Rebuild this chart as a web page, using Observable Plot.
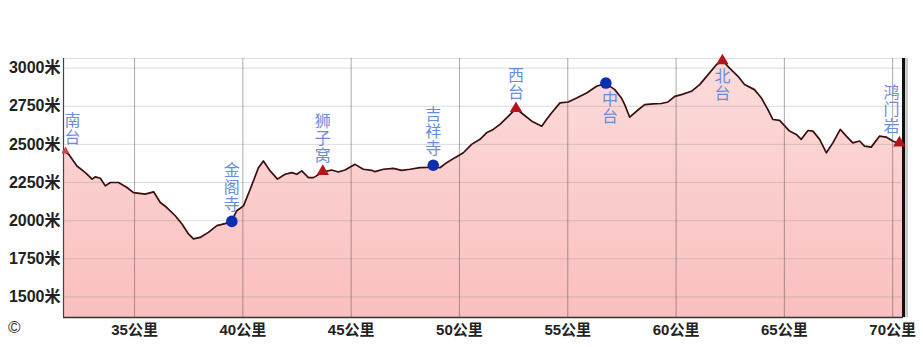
<!DOCTYPE html>
<html>
<head>
<meta charset="utf-8">
<script src="https://cdn.jsdelivr.net/npm/d3@7"></script>
<script src="https://cdn.jsdelivr.net/npm/@observablehq/plot@0.6"></script>
<style>
  html, body { margin: 0; padding: 0; background: #fff; }
  #wrap { position: relative; width: 923px; height: 347px; }
  #copy { position: absolute; left: 8px; top: 318px; font: 17px "Liberation Sans", sans-serif; color: #333; }
  g.station-label text {
    writing-mode: vertical-rl;
    text-orientation: upright;
    dominant-baseline: central;
    letter-spacing: 1px;
  }
</style>
</head>
<body>
<div id="wrap"><div id="copy">©</div></div>
<script>
// ---- data ----
const distanceKm = [31.72, 31.96, 32.34, 32.73, 33.04, 33.19, 33.42, 33.65, 33.88, 34.26, 34.65, 34.95, 35.49, 35.88, 36.19, 36.49, 36.88, 37.19, 37.49, 37.72, 38.03, 38.41, 38.80, 39.18, 39.49, 39.72, 40.03, 40.34, 40.72, 40.95, 41.26, 41.60, 41.95, 42.26, 42.49, 42.72, 43.03, 43.26, 43.69, 44.10, 44.41, 44.72, 45.18, 45.56, 45.95, 46.10, 46.49, 46.95, 47.33, 47.72, 48.18, 48.79, 49.10, 49.41, 49.79, 50.18, 50.56, 50.95, 51.25, 51.56, 51.87, 52.18, 52.61, 52.95, 53.34, 53.80, 54.02, 54.25, 54.64, 55.02, 55.41, 55.87, 56.33, 56.76, 57.17, 57.48, 57.63, 57.86, 58.17, 58.55, 58.94, 59.32, 59.63, 59.94, 60.25, 60.71, 61.09, 61.48, 61.86, 62.14, 62.47, 62.86, 63.16, 63.62, 63.94, 64.24, 64.47, 64.78, 65.24, 65.55, 65.78, 66.09, 66.32, 66.63, 66.94, 67.24, 67.58, 67.86, 68.16, 68.47, 68.70, 69.01, 69.39, 69.70, 70.00, 70.31, 70.50];
const elevationM = [2456, 2435, 2358, 2315, 2272, 2287, 2278, 2228, 2250, 2250, 2217, 2184, 2174, 2189, 2119, 2086, 2032, 1978, 1913, 1880, 1890, 1923, 1967, 1980, 2000, 2065, 2097, 2206, 2347, 2391, 2326, 2272, 2304, 2315, 2304, 2326, 2282, 2282, 2318, 2332, 2319, 2332, 2369, 2337, 2330, 2321, 2337, 2343, 2330, 2337, 2347, 2350, 2347, 2380, 2413, 2445, 2500, 2533, 2576, 2598, 2631, 2674, 2735, 2696, 2652, 2619, 2663, 2706, 2772, 2778, 2804, 2837, 2881, 2900, 2859, 2804, 2761, 2678, 2717, 2761, 2765, 2768, 2778, 2815, 2826, 2848, 2892, 2957, 3022, 3050, 3000, 2946, 2892, 2859, 2804, 2728, 2663, 2657, 2587, 2565, 2533, 2591, 2587, 2533, 2445, 2510, 2598, 2554, 2510, 2522, 2489, 2482, 2554, 2548, 2522, 2504, 2498];

const stationNames = ["南台", "金阁寺", "狮子窝", "吉祥寺", "西台", "中台", "北台", "鸿门岩"];
const stationKm = [31.72, 39.49, 43.69, 48.79, 52.61, 56.76, 62.14, 70.31];
const stationElev = [2456, 1995, 2322, 2363, 2735, 2902, 3048, 2510];
const stationKind = ["peak", "temple", "peak", "temple", "peak", "temple", "peak", "peak"];

const xTicks = [35, 40, 45, 50, 55, 60, 65, 70];
const yTicks = [1500, 1750, 2000, 2250, 2500, 2750, 3000];
const xUnit = "公里";
const yUnit = "米";

// ---- styling (not data) ----
const labelPlace = {"南台": "above-right", "中台": "below-right", "北台": "below", "鸿门岩": "above-left"};
const xDomain = [31.72, 70.5];
const yDomain = [1365, 3063];

const profile = distanceKm.map((d, i) => ({km: d, elev: elevationM[i]}));
const stations = stationNames.map((n, i) => ({
  name: n, km: stationKm[i], elev: stationElev[i], kind: stationKind[i],
  place: labelPlace[n] || "above"
}));

const labelStyle = {
  x: "km", y: "elev", text: "name", fill: "#6a8cdc", fontSize: 16,
  fontFamily: "'Noto Sans CJK SC', sans-serif", className: "station-label"
};
const placed = p => stations.filter(s => s.place === p);

const chart = Plot.plot({
  width: 923,
  height: 347,
  marginLeft: 63,
  marginRight: 20,
  marginTop: 58,
  marginBottom: 30,
  style: {fontFamily: "'Liberation Sans', 'Noto Sans CJK SC', sans-serif", color: "#222", background: "#fff"},
  x: {domain: xDomain},
  y: {domain: yDomain},
  marks: [
    Plot.areaY(profile, {x: "km", y: "elev", fill: "url(#pinkGrad)", clip: true}),
    Plot.ruleY([yDomain[1]], {stroke: "#ddd"}),
    Plot.gridY({ticks: yTicks, stroke: "#888", strokeOpacity: 0.3}),
    Plot.gridX({ticks: xTicks, stroke: "#444", strokeOpacity: 0.45}),
    Plot.line(profile, {x: "km", y: "elev", stroke: "#3a0f0f", strokeWidth: 1.7}),
    Plot.ruleX([xDomain[0]], {stroke: "#444", strokeWidth: 1.2}),
    Plot.ruleY([yDomain[0]], {stroke: "#333", strokeWidth: 1.5}),
    Plot.ruleX([xDomain[1]], {stroke: "#999", strokeWidth: 3, dx: 3, strokeOpacity: 0.5}),
    Plot.ruleX([xDomain[1]], {stroke: "#111", strokeWidth: 3}),
    Plot.axisY({ticks: yTicks, tickFormat: d => d + yUnit, tickSize: 0, tickPadding: 3, fontSize: 16, fontWeight: "bold", label: null}),
    Plot.axisX({ticks: xTicks, tickFormat: d => d + xUnit, tickSize: 0, tickPadding: 7, fontSize: 15, fontWeight: "bold", label: null}),
    Plot.dot(stations.filter(s => s.kind === "peak" && s.name !== "南台"), {x: "km", y: "elev", symbol: "triangle", r: 4.6, fill: "#b3161a"}),
    Plot.dot(stations.filter(s => s.name === "南台"), {x: "km", y: "elev", symbol: "triangle", r: 3, fill: "#c44", dx: 2}),
    Plot.dot(stations.filter(s => s.kind === "temple"), {x: "km", y: "elev", r: 5.8, fill: "#0b2fae"}),
    Plot.text(placed("above"), {...labelStyle, textAnchor: "end", dy: -8}),
    Plot.text(placed("above-right"), {...labelStyle, textAnchor: "end", dx: 9, dy: -5}),
    Plot.text(placed("above-left"), {...labelStyle, textAnchor: "end", dx: -8, dy: -8}),
    Plot.text(placed("below"), {...labelStyle, textAnchor: "start", dy: 7}),
    Plot.text(placed("below-right"), {...labelStyle, textAnchor: "start", dx: 4, dy: 8})
  ]
});

// vertical station labels: one text each, stacked top-to-bottom
chart.querySelectorAll("g.station-label text").forEach(t => {
  t.removeAttribute("y");
  t.removeAttribute("dy");
});

// vertical pink gradient for the area
const ns = "http://www.w3.org/2000/svg";
const defs = document.createElementNS(ns, "defs");
const grad = document.createElementNS(ns, "linearGradient");
grad.setAttribute("id", "pinkGrad");
grad.setAttribute("x1", "0"); grad.setAttribute("y1", "0");
grad.setAttribute("x2", "0"); grad.setAttribute("y2", "1");
[["0%", "#fcdcdc"], ["45%", "#fbc4c4"], ["100%", "#f8a8a8"]].forEach(([o, c]) => {
  const st = document.createElementNS(ns, "stop");
  st.setAttribute("offset", o); st.setAttribute("stop-color", c);
  grad.appendChild(st);
});
defs.appendChild(grad);
chart.insertBefore(defs, chart.firstChild);

document.getElementById("wrap").insertBefore(chart, document.getElementById("copy"));
</script>
</body>
</html>
